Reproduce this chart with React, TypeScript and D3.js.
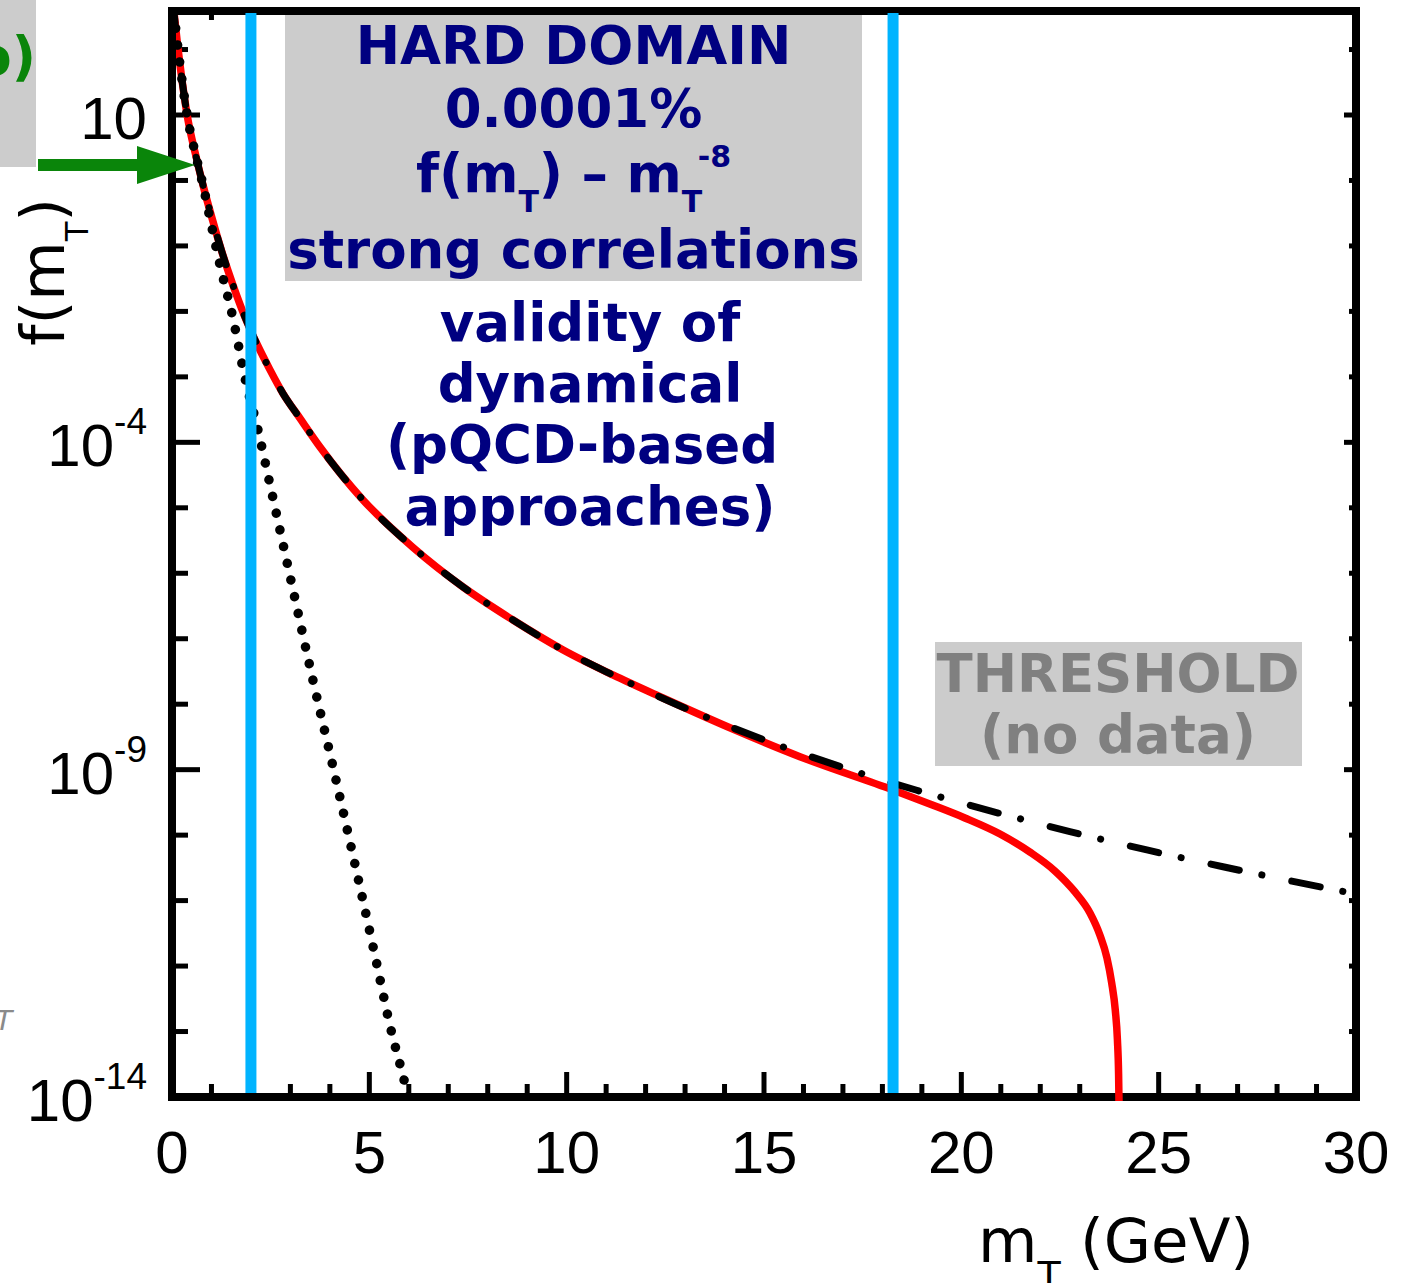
import React from "react";
import * as d3 from "d3";

// ---- data ----
const xTickValues = [0, 5, 10, 15, 20, 25, 30];
const xMinorTicks = d3.range(1, 30);
const xTopTicks = [1];
const yLabelValues = [10, 1e-4, 1e-9, 1e-14];
const yLabelExps = ["", "-4", "-9", "-14"];
const yDecadeTicks = [1e2, 1e1, 1, 1e-1, 1e-2, 1e-3, 1e-4, 1e-5, 1e-6, 1e-7, 1e-8, 1e-9, 1e-10, 1e-11, 1e-12, 1e-13];
const yMajorTicks = [1e1, 1e-4, 1e-9];

// red solid curve
const redM = [0, 0.127, 0.253, 0.405, 0.582, 0.785, 1.013, 1.266, 1.544, 1.848, 2.152, 2.48, 2.81, 3.24, 3.75, 4.84, 6.1, 7.37, 8.63, 9.9, 11.17, 12.44, 14.21, 15.91, 18.27, 19.2, 20.09, 20.98, 21.74, 22.37, 22.88, 23.26, 23.51, 23.69, 23.81, 23.9, 23.955, 23.985, 23.998];
const redF = [708, 140, 34.3, 8.4, 2.72, 0.853, 0.267, 0.0807, 0.0253, 8.2e-3, 3.18e-3, 1.29e-3, 5.6e-4, 2.34e-4, 8.5e-5, 1.32e-5, 2.5e-6, 6.2e-7, 1.95e-7, 6.8e-8, 2.8e-8, 1.245e-8, 4.18e-9, 1.58e-9, 4.9e-10, 2.99e-10, 1.83e-10, 1.04e-10, 5.5e-11, 2.84e-11, 1.355e-11, 6.47e-12, 2.99e-12, 1.33e-12, 5.52e-13, 2.14e-13, 7.44e-14, 2.17e-14, 6.3e-15];

// black dash-dot curve (power law)
const dashM = [0, 0.127, 0.253, 0.405, 0.582, 0.785, 1.013, 1.266, 1.544, 1.848, 2.152, 2.48, 2.81, 3.24, 3.75, 4.84, 6.1, 7.37, 8.63, 9.9, 11.17, 13.05, 14.97, 16.92, 18.87, 20.8, 22.75, 24.7, 26.63, 28.53, 30];
const dashF = [708, 140, 34.3, 8.4, 2.72, 0.853, 0.267, 0.0807, 0.0253, 8.2e-3, 3.18e-3, 1.29e-3, 5.6e-4, 2.34e-4, 8.5e-5, 1.32e-5, 2.5e-6, 6.2e-7, 1.95e-7, 6.8e-8, 2.8e-8, 8.45e-9, 2.9e-9, 1.12e-9, 4.85e-10, 2.29e-10, 1.135e-10, 5.94e-11, 3.29e-11, 1.9e-11, 1.26e-11];

// black dotted curve (exponential)
const dotM = [0, 0.127, 0.253, 0.405, 0.582, 0.785, 1.013, 1.216, 1.545, 1.849, 2.178, 2.48, 2.99, 3.57, 4.08, 5.14, 5.52, 5.95, 6.05];
const dotF = [708, 140, 34.3, 8.4, 2.72, 0.853, 0.188, 0.0512, 7.9e-3, 9.6e-4, 1.55e-4, 2.31e-5, 9.1e-7, 2.34e-8, 1.1e-9, 1.48e-12, 1.26e-13, 1.2e-14, 6.3e-15];

// vertical blue domain boundaries (GeV)
const cutLines = [2.0, 18.27];

const W = 1409;
const H = 1283;
const X0 = 172, X1 = 1356, YT = 11, YB = 1097;

export default function App() {
  const x = d3.scaleLinear().domain([0, 30]).range([X0, X1]);
  const y = d3.scaleLog().domain([1e-14, 10]).range([YB, 115]);

  const line = d3
    .line<[number, number]>()
    .x((d) => x(d[0]))
    .y((d) => y(d[1]))
    .curve(d3.curveMonotoneX);

  const red = line(redM.map((m, i) => [m, redF[i]]) as [number, number][]) || "";
  const dash = line(dashM.map((m, i) => [m, dashF[i]]) as [number, number][]) || "";
  const dot = line(dotM.map((m, i) => [m, dotF[i]]) as [number, number][]) || "";

  const sans = "'DejaVu Sans', Verdana, sans-serif";
  const arial = "'Liberation Sans', Arial, Helvetica, sans-serif";
  const navy = "#000080";
  const green = "#0a850a";

  return (
    <svg
      width={W}
      height={H}
      viewBox={`0 0 ${W} ${H}`}
      style={{ position: "absolute", left: 0, top: 0, background: "#fff" }}
    >
      <defs>
        <clipPath id="plotClip">
          <rect x={X0 + 4} y={YT + 4} width={X1 - X0 - 8} height={YB - YT} />
        </clipPath>
      </defs>
      <rect x={0} y={0} width={W} height={H} fill="#fff" />

      {/* frame */}
      <rect x={X0} y={YT} width={X1 - X0} height={YB - YT} fill="none" stroke="#000" strokeWidth={8} />

      {/* bottom ticks */}
      {xMinorTicks.map((m) => {
        const major = m % 5 === 0;
        return (
          <line key={"xt" + m} x1={x(m)} x2={x(m)} y1={YB} y2={YB - (major ? 25 : 13)} stroke="#000" strokeWidth={5} />
        );
      })}
      {/* top ticks (only visible one) */}
      {xTopTicks.map((m) => (
        <line key={"xtt" + m} x1={x(m)} x2={x(m)} y1={YT} y2={YT + 9} stroke="#000" strokeWidth={5} />
      ))}
      {/* left & right ticks */}
      {yDecadeTicks.map((v, i) => {
        const major = yMajorTicks.includes(v);
        return (
          <g key={"yt" + i} stroke="#000" strokeWidth={5}>
            <line x1={X0} x2={X0 + (major ? 28 : 16)} y1={y(v)} y2={y(v)} />
            <line x1={X1} x2={X1 - (major ? 12 : 7)} y1={y(v)} y2={y(v)} />
          </g>
        );
      })}

      {/* curves */}
      <g clipPath="url(#plotClip)" fill="none">
        <path d={red} stroke="#ff0000" strokeWidth={7.5} />
        <path d={dash} stroke="#000" strokeWidth={7} strokeDasharray="29 23 0.1 30.5" strokeLinecap="round" />
        <path d={dot} stroke="#000" strokeWidth={9.5} strokeDasharray="0.1 17" strokeLinecap="round" />
      </g>

      {/* blue domain lines */}
      {cutLines.map((m) => (
        <line key={"cut" + m} x1={x(m)} x2={x(m)} y1={YT + 2} y2={YB - 4} stroke="#00b4ff" strokeWidth={11} />
      ))}

      {/* x tick labels */}
      {xTickValues.map((v) => (
        <text key={"xl" + v} x={x(v)} y={1173} textAnchor="middle" fontSize={60} fontFamily={arial} fill="#000">
          {v}
        </text>
      ))}
      {/* y tick labels */}
      {yLabelValues.map((v, i) => (
        <text key={"yl" + i} x={147} y={y(v) + 24} textAnchor="end" fontSize={60} fontFamily={arial} fill="#000">
          10
          {yLabelExps[i] !== "" && (
            <tspan dy={-32} fontSize={37}>
              {yLabelExps[i]}
            </tspan>
          )}
        </text>
      ))}

      {/* axis titles */}
      <text x={978} y={1262} fontSize={61} fontFamily={sans} fill="#000">
        m
        <tspan dy={26} fontSize={38}>
          T
        </tspan>
        <tspan dy={-26}>{" (GeV)"}</tspan>
      </text>
      <text transform="translate(64,272) rotate(-90)" textAnchor="middle" fontSize={61} fontFamily={sans} fill="#000">
        f(m
        <tspan dy={24} fontSize={32}>
          T
        </tspan>
        <tspan dy={-24}>)</tspan>
      </text>

      {/* HARD DOMAIN box */}
      <rect x={285} y={15} width={577} height={266} fill="#cccccc" />
      <g fontFamily={sans} fontWeight="bold" fontSize={53} fill={navy} textAnchor="middle">
        <text x={573.5} y={64}>HARD DOMAIN</text>
        <text x={573.5} y={127}>0.0001%</text>
        <text x={573.5} y={192}>
          f(m
          <tspan dy={20} fontSize={30}>
            T
          </tspan>
          <tspan dy={-20}>{") – m"}</tspan>
          <tspan dy={20} fontSize={30}>
            T
          </tspan>
          <tspan dy={-45} fontSize={30}>
            -8
          </tspan>
        </text>
        <text x={573.5} y={268}>strong correlations</text>
        <text x={590} y={341}>validity of</text>
        <text x={590} y={402}>dynamical</text>
        <text x={582} y={463}>(pQCD-based</text>
        <text x={590} y={525}>approaches)</text>
      </g>

      {/* THRESHOLD box */}
      <rect x={935} y={642} width={367} height={124} fill="#cccccc" />
      <g fontFamily={sans} fontWeight="bold" fontSize={53} fill="#808080" textAnchor="middle">
        <text x={1118} y={692}>THRESHOLD</text>
        <text x={1118} y={753}>(no data)</text>
      </g>

      {/* cut-off annotation at top-left */}
      <rect x={0} y={0} width={36} height={167} fill="#cccccc" />
      <text x={36} y={75} textAnchor="end" fontFamily={sans} fontWeight="bold" fontSize={53} fill={green}>
        o)
      </text>
      {/* green arrow */}
      <rect x={38} y={159} width={100} height={12} fill={green} />
      <polygon points="137,146 195,165 137,184" fill={green} />

      {/* faint cut-off glyph at left */}
      <text x={-6} y={1030} fontFamily={arial} fontStyle="italic" fontSize={30} fill="#8a8a8a">
        T
      </text>
    </svg>
  );
}
